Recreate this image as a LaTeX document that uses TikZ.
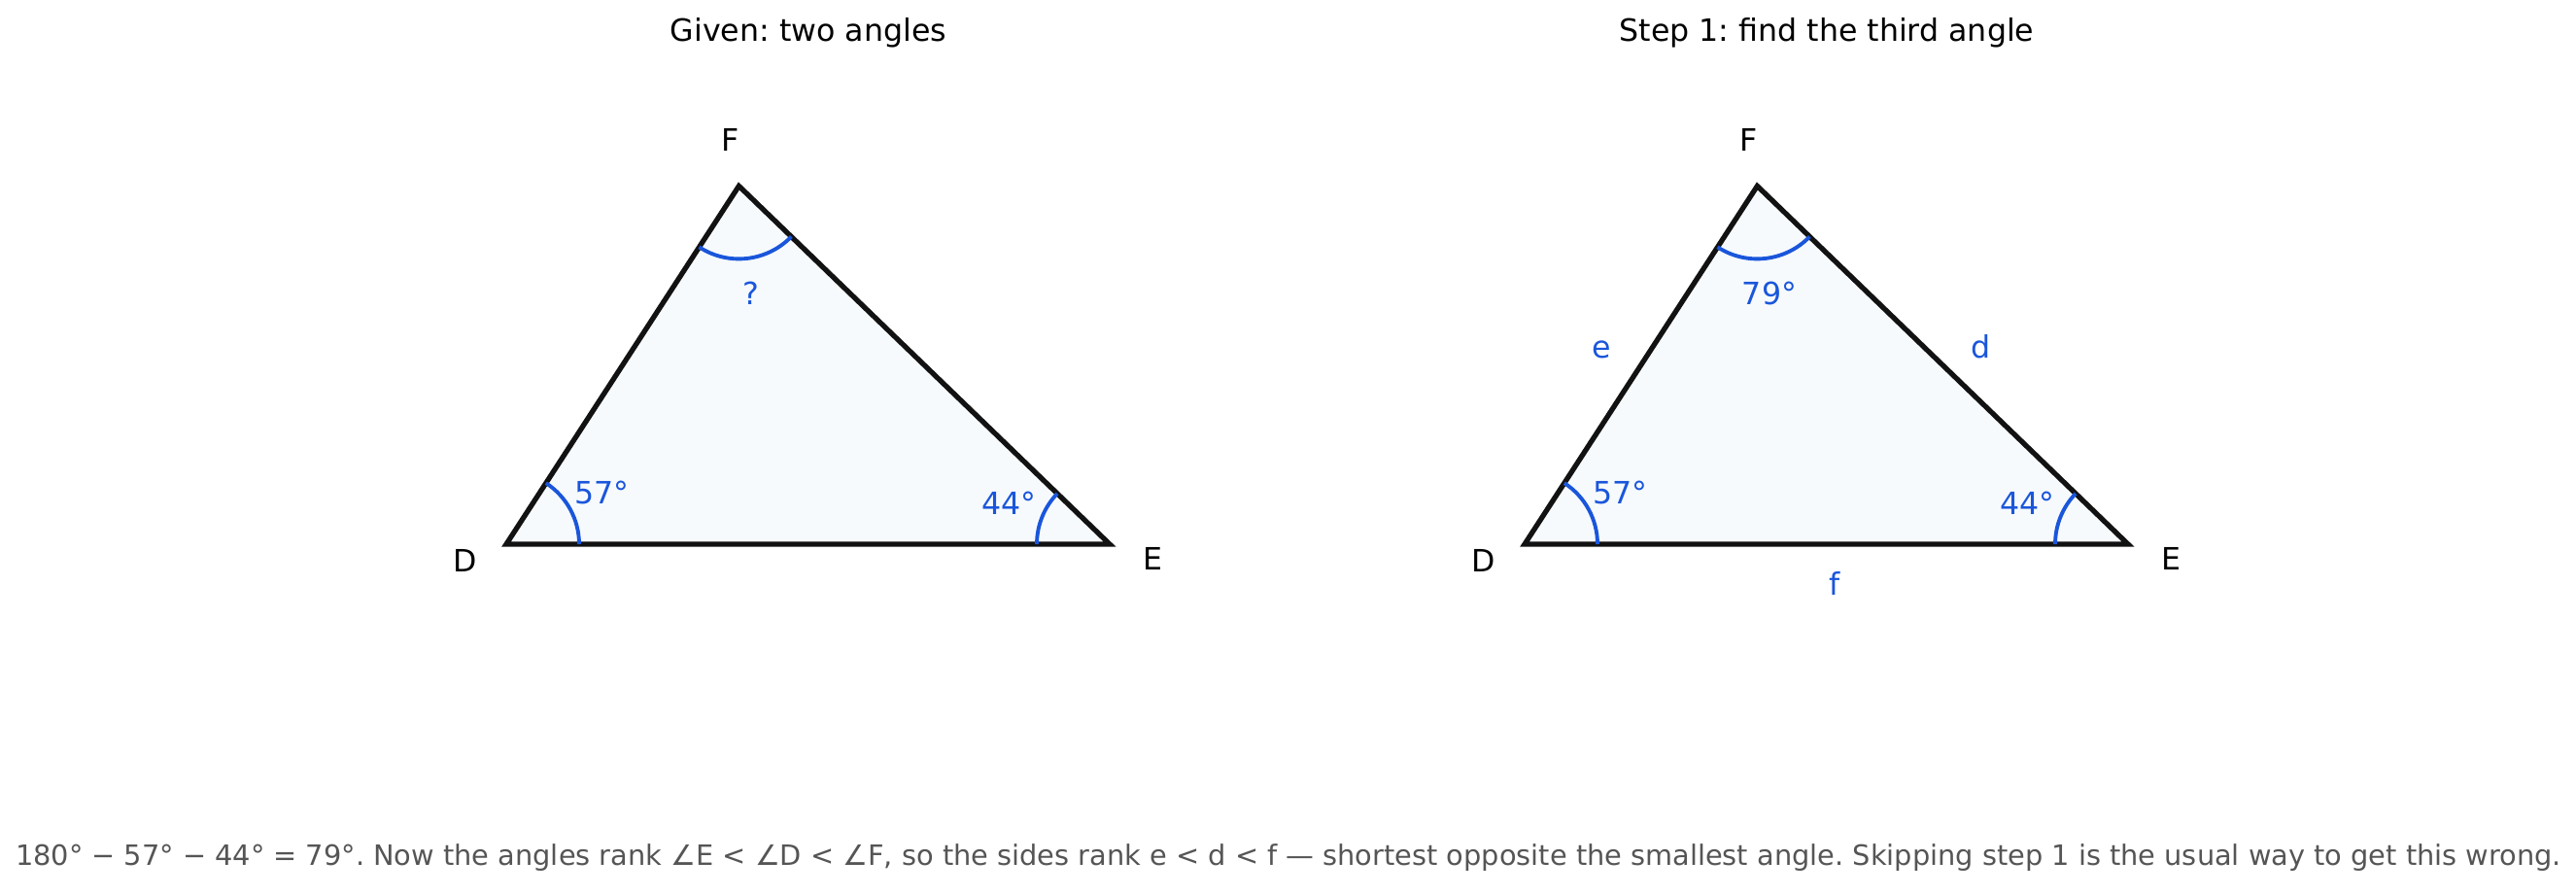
\documentclass[tikz,border=0pt]{standalone}
\usepackage{fontspec}
\setmainfont{DejaVu Sans}
\frenchspacing
\definecolor{anglecol}{HTML}{1A56DB}
\definecolor{trifill}{HTML}{F6FAFD}
\definecolor{notecol}{HTML}{555555}
\tikzset{
  tri/.style={draw=black!93, line width=1.5pt, fill=trifill, line join=miter},
  angarc/.style={draw=anglecol, line width=1.1pt},
  anglabel/.style={text=anglecol, font=\fontsize{9}{11}\selectfont},
  vertlabel/.style={font=\fontsize{9}{11}\selectfont},
  paneltitle/.style={font=\fontsize{9}{11}\selectfont},
}
\begin{document}
\begin{tikzpicture}
  \useasboundingbox (0,0) rectangle (26.51,9.20);

  \node[paneltitle] (title1) at (8.32,8.86) {Given: two angles};
  \node[paneltitle] (title2) at (18.80,8.86) {Step 1: find the third angle};

  \coordinate (D1) at (5.21,3.60);
  \coordinate (E1) at (11.42,3.60);
  \coordinate (F1) at (7.604,7.286);
  \draw[tri] (D1) -- (E1) -- (F1) -- cycle;
  \draw[angarc] ([shift={(0:0.75)}]D1) arc (0:57:0.75);
  \draw[angarc] ([shift={(180:0.75)}]E1) arc (180:136:0.75);
  \draw[angarc] ([shift={(237:0.75)}]F1) arc (237:316:0.75);
  \node[anglabel] (aD1) at ([shift={(28.5:1.12)}]D1) {57°};
  \node[anglabel] (aE1) at ([shift={(158:1.12)}]E1) {44°};
  \node[anglabel] (aF1) at ([shift={(276.5:1.11)}]F1) {?};
  \node[vertlabel] (nD1) at ([shift={(-0.42,-0.17)}]D1) {D};
  \node[vertlabel] (nE1) at ([shift={(0.44,-0.15)}]E1) {E};
  \node[vertlabel] (nF1) at ([shift={(-0.09,0.47)}]F1) {F};

  \coordinate (D2) at (15.69,3.60);
  \coordinate (E2) at (21.90,3.60);
  \coordinate (F2) at (18.084,7.286);
  \draw[tri] (D2) -- (E2) -- (F2) -- cycle;
  \draw[angarc] ([shift={(0:0.75)}]D2) arc (0:57:0.75);
  \draw[angarc] ([shift={(180:0.75)}]E2) arc (180:136:0.75);
  \draw[angarc] ([shift={(237:0.75)}]F2) arc (237:316:0.75);
  \node[anglabel] (aD2) at ([shift={(28.5:1.12)}]D2) {57°};
  \node[anglabel] (aE2) at ([shift={(158:1.12)}]E2) {44°};
  \node[anglabel] (aF2) at ([shift={(276.5:1.11)}]F2) {79°};
  \node[vertlabel] (nD2) at ([shift={(-0.42,-0.17)}]D2) {D};
  \node[vertlabel] (nE2) at ([shift={(0.44,-0.15)}]E2) {E};
  \node[vertlabel] (nF2) at ([shift={(-0.09,0.47)}]F2) {F};
  \node[anglabel] (se) at (16.48,5.60) {e};
  \node[anglabel] (sd) at (20.39,5.63) {d};
  \node[anglabel] (sf) at (18.88,3.20) {f};

  \node[text=notecol, font=\fontsize{8.2}{10}\selectfont] (note) at (13.26,0.37)
    {180° − 57° − 44° = 79°. Now the angles rank ∠E < ∠D < ∠F, so the sides rank e < d < f — shortest opposite the smallest angle. Skipping step 1 is the usual way to get this wrong.};
\end{tikzpicture}
\end{document}
